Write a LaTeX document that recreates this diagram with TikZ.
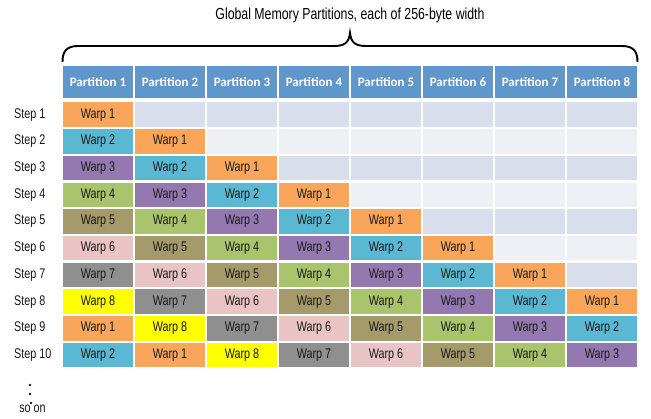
\documentclass[tikz,border=0pt]{standalone}
\usepackage{fontspec}
\setmainfont{Liberation Sans}[FakeStretch=0.77]
\newfontfamily\hdrfont{Carlito}
\definecolor{hdrblue}{HTML}{6097CA}
\definecolor{emptydark}{HTML}{D9DEEC}
\definecolor{emptylight}{HTML}{EDF0F5}
\definecolor{warp1}{HTML}{F9A65A}
\definecolor{warp2}{HTML}{5BB8D2}
\definecolor{warp3}{HTML}{9479B0}
\definecolor{warp4}{HTML}{A9C46C}
\definecolor{warp5}{HTML}{A59A6A}
\definecolor{warp6}{HTML}{EAC4C4}
\definecolor{warp7}{HTML}{8F8F8F}
\definecolor{warp8}{HTML}{FFFF00}
\begin{document}
\begin{tikzpicture}[x=1pt,y=-1pt,
  cellbox/.style={minimum width=70pt, minimum height=24.5pt, inner sep=0pt,
    font=\fontsize{14}{16}\selectfont, text=black!90},
  hdrbox/.style={fill=hdrblue, minimum width=70pt, minimum height=32.5pt, inner sep=0pt,
    text=white, font=\hdrfont\bfseries\fontsize{13}{15}\selectfont},
  steplabel/.style={anchor=west, inner sep=0pt, font=\fontsize{14}{16}\selectfont, text=black!90},
  bracestyle/.style={line width=1.9pt, black}]
\useasboundingbox (0,0) rectangle (651,419);
\node[font=\fontsize{16}{18}\selectfont] (title) at (350,15) {Global Memory Partitions, each of 256-byte width};
\coordinate (bl) at (62.5,62);
\coordinate (br) at (637.5,62);
\coordinate (tip) at (350,33);
\draw[bracestyle] (bl) .. controls (62.5,52) and (66,46) .. (78,46) -- (334,46)
  .. controls (344,46) and (349,43) .. (tip)
  .. controls (351,43) and (356,46) .. (366,46) -- (622,46)
  .. controls (634,46) and (637.5,52) .. (br);
\foreach \c in {1,...,8} {
  \node[hdrbox] (h-\c) at ({98+72*(\c-1)}, 82.25) {Partition \c};
}
\foreach \r in {1,...,10} {
  \pgfmathsetmacro\yy{114.75+(\r-1)*26.7}
  \node[steplabel] (s-\r) at (14,\yy) {Step \r};
  \foreach \c in {1,...,8} {
    \pgfmathsetmacro\xx{98+72*(\c-1)}
    \ifnum\c>\r
      \ifodd\r
        \node[cellbox, fill=emptydark] (c-\r-\c) at (\xx,\yy) {};
      \else
        \node[cellbox, fill=emptylight] (c-\r-\c) at (\xx,\yy) {};
      \fi
    \else
      \pgfmathtruncatemacro\k{mod(\r-\c,8)+1}
      \node[cellbox, fill=warp\k] (c-\r-\c) at (\xx,\yy) {Warp \k};
    \fi
  }
}
\fill[black!90] (30,385) circle (1.3) (30,394) circle (1.3) (31,403) circle (1.3);
\node[font=\fontsize{14}{16}\selectfont, inner sep=0pt, text=black!90] (soon) at (32.5,409) {so on};
\end{tikzpicture}
\end{document}
